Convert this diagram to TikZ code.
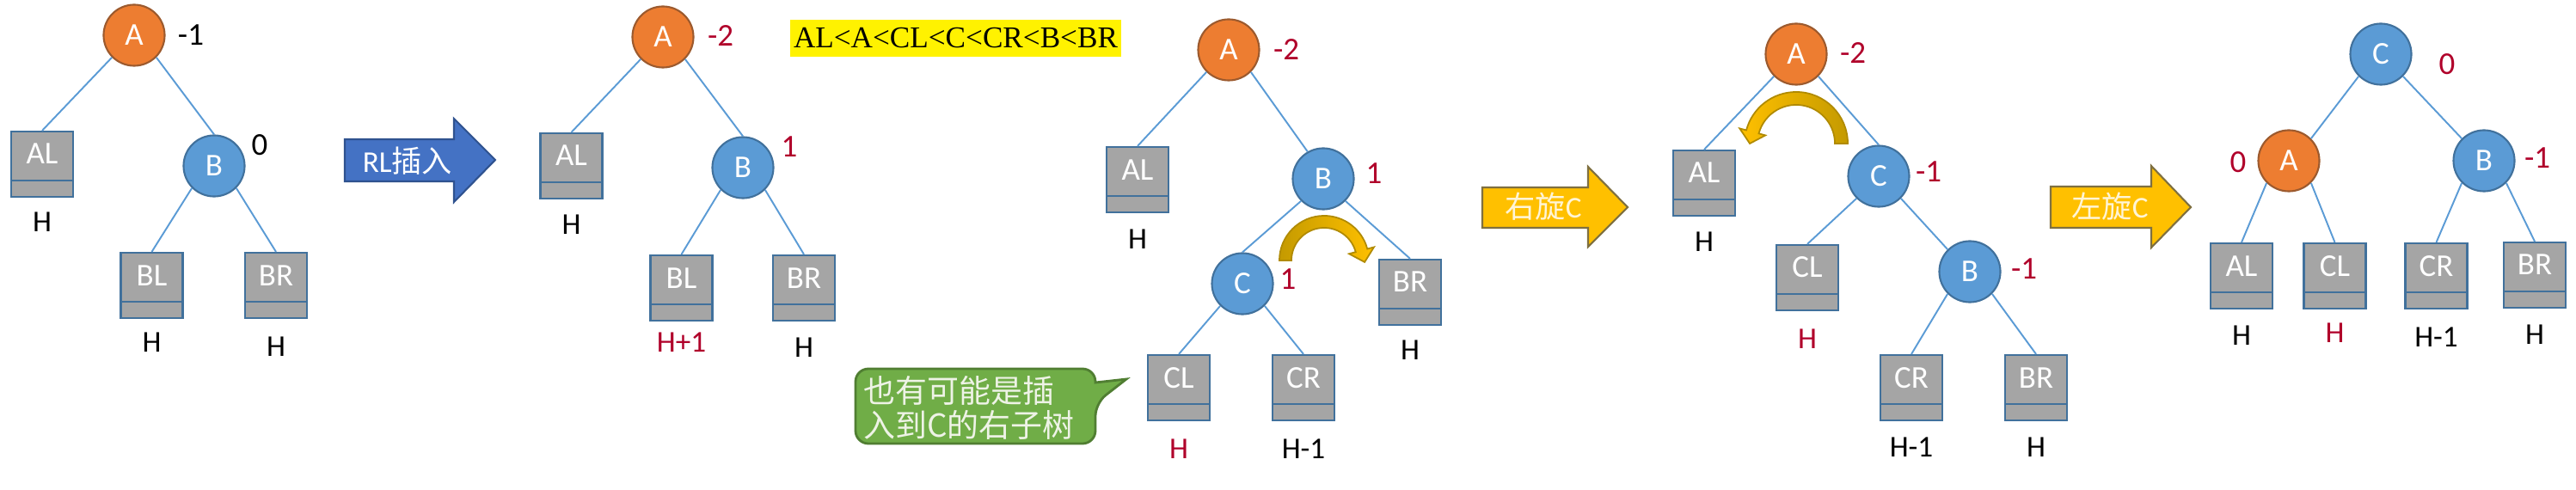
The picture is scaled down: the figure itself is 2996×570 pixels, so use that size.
\documentclass[tikz,border=0pt]{standalone}
\usepackage{fontspec}
\setmainfont{Carlito}
\newfontfamily\cjkfont{Noto Sans CJK SC}
\newfontfamily\timesfont{Liberation Serif}
\definecolor{orfill}{HTML}{ED7D31}
\definecolor{ordraw}{HTML}{9C5A2E}
\definecolor{blfill}{HTML}{5B9BD5}
\definecolor{bldraw}{HTML}{41719C}
\definecolor{gyfill}{HTML}{A5A5A5}
\definecolor{edgec}{HTML}{5B9BD5}
\definecolor{redtx}{HTML}{B0002A}
\definecolor{arrblue}{HTML}{4472C4}
\definecolor{arrblued}{HTML}{2F528F}
\definecolor{arrgold}{HTML}{FFC000}
\definecolor{arrgoldd}{HTML}{7F7040}
\definecolor{arrtxt}{HTML}{FFF5D6}
\definecolor{callg}{HTML}{70AD47}
\definecolor{callgd}{HTML}{507E32}
\definecolor{calltx}{HTML}{EEF3E6}
\definecolor{curvlight}{HTML}{FFC000}
\definecolor{curvdark}{HTML}{C49A00}
\definecolor{curvline}{HTML}{B08A00}
\begin{document}
\begin{tikzpicture}[x=0.01cm,y=-0.01cm,
  nodeA/.style={circle, minimum size=0.71cm, inner sep=0pt, fill=orfill, draw=ordraw, line width=0.6pt, text=white, font=\fontsize{10.5pt}{12pt}\selectfont},
  nodeB/.style={nodeA, fill=blfill, draw=bldraw},
  sub/.style={rectangle, minimum width=0.72cm, minimum height=0.76cm, inner sep=0pt, fill=gyfill, draw=bldraw, line width=0.6pt, text=white, font=\fontsize{10.5pt}{12pt}\selectfont, text height=0.2cm, text depth=0.2cm,
    path picture={\draw[bldraw, line width=0.6pt] ([yshift=0.19cm]path picture bounding box.south west) -- ([yshift=0.19cm]path picture bounding box.south east);}},
  hl/.style={font=\fontsize{10pt}{12pt}\selectfont, text=black, inner sep=0pt},
  hr/.style={hl, text=redtx},
  nl/.style={font=\fontsize{10.5pt}{12pt}\selectfont, text=black, inner sep=0pt},
  nr/.style={nl, text=redtx},
  edge/.style={draw=edgec, line width=0.55pt},
  bigarrow/.style={line width=0.6pt},
  arrtext/.style={inner sep=0pt, font=\fontsize{10pt}{12pt}\selectfont},
  curv/.style={draw=curvline, line width=0.5pt, shading=axis}
]
\useasboundingbox (0,0) rectangle (2996,570);

% ---------- Panel 1 ----------
\node[nodeA] (p1A) at (156,41) {A};
\node[nodeB] (p1B) at (249,193) {B};
\node[sub] (p1AL) at (49,191) {AL};
\node[sub] (p1BL) at (176.5,332) {BL};
\node[sub] (p1BR) at (321,332) {BR};
\draw[edge] (p1A.south west) -- (p1AL.north);
\draw[edge] (p1A.south east) -- (p1B.north);
\draw[edge] (p1B.south west) -- (p1BL.north);
\draw[edge] (p1B.south east) -- (p1BR.north);
\node[nl] (p1n1) at (222,41) {-1};
\node[nl] (p1n2) at (302,169) {0};
\node[hl] (p1h1) at ([yshift=-0.67cm]p1AL.center) {H};
\node[hl] (p1h2) at ([yshift=-0.66cm]p1BL.center) {H};
\node[hl] (p1h3) at ([yshift=-0.71cm]p1BR.center) {H};

% RL arrow
\filldraw[bigarrow, fill=arrblue, draw=arrblued] (401,162) -- (528,162) -- (528,138) -- (576,186) -- (528,235) -- (528,211) -- (401,211) -- cycle;
\node[arrtext, text=white] (rl) at (474,187) {RL{\cjkfont 插入}};

% ---------- Panel 2 ----------
\node[nodeA] (p2A) at (771,43) {A};
\node[nodeB] (p2B) at (864,195) {B};
\node[sub] (p2AL) at (664.5,193) {AL};
\node[sub] (p2BL) at (792.5,335) {BL};
\node[sub] (p2BR) at (935,335) {BR};
\draw[edge] (p2A.south west) -- (p2AL.north);
\draw[edge] (p2A.south east) -- (p2B.north);
\draw[edge] (p2B.south west) -- (p2BL.north);
\draw[edge] (p2B.south east) -- (p2BR.north);
\node[nr] (p2n1) at (838,42) {-2};
\node[nr] (p2n2) at (918,171) {1};
\node[hl] (p2h1) at ([yshift=-0.68cm]p2AL.center) {H};
\node[hr] (p2h2) at ([yshift=-0.63cm]p2BL.center) {H+1};
\node[hl] (p2h3) at ([yshift=-0.69cm]p2BR.center) {H};

% order label
\node[fill=yellow, inner sep=0pt, minimum width=3.85cm, minimum height=0.43cm, font=\timesfont\fontsize{10pt}{12pt}\selectfont] (order) at (1111.5,44.5) {AL<A<CL<C<CR<B<BR};

% ---------- Panel 3 ----------
\node[nodeA] (p3A) at (1429,58) {A};
\node[nodeB] (p3B) at (1539,208) {B};
\node[nodeB] (p3C) at (1445,330) {C};
\node[sub] (p3AL) at (1323,209) {AL};
\node[sub] (p3BR) at (1640,340) {BR};
\node[sub] (p3CL) at (1371,451) {CL};
\node[sub] (p3CR) at (1516,451) {CR};
\draw[edge] (p3A.south west) -- (p3AL.north);
\draw[edge] (p3A.south east) -- (p3B.120);
\draw[edge] (p3B.south west) -- (p3C.north);
\draw[edge] (p3B.south east) -- (p3BR.north);
\draw[edge] (p3C.south west) -- (p3CL.north);
\draw[edge] (p3C.south east) -- (p3CR.north);
\node[nr] (p3n1) at (1496,58) {-2};
\node[nr] (p3n2) at (1598,202) {1};
\node[nr] (p3n3) at (1498,325) {1};
\node[hl] (p3h1) at ([yshift=-0.69cm]p3AL.center) {H};
\node[hl] (p3h2) at ([yshift=-0.67cm]p3BR.center) {H};
\node[hr] (p3h3) at ([yshift=-0.71cm]p3CL.center) {H};
\node[hl] (p3h4) at ([yshift=-0.71cm]p3CR.center) {H-1};
% curved arrow (rotate at B)
\path[curv, left color=curvdark, right color=curvlight, shift={(1540,303)}]
  (180:0.52cm) arc[start angle=180, end angle=15, radius=0.52cm]
  -- (15:0.60cm) -- (0.471cm,-0.019cm) -- (15:0.30cm) -- (15:0.38cm)
  arc[start angle=15, end angle=180, radius=0.38cm] -- cycle;

% callout
\filldraw[fill=callg, draw=callgd, line width=0.8pt]
  (1274,445) [rounded corners=0.15cm] -- (1274,429) -- (995,429) -- (995,516) -- (1274,516) -- (1274,469) [sharp corners] -- (1310,441) -- cycle;
\node[inner sep=0pt, align=left, text=calltx, font=\cjkfont\fontsize{10.5pt}{11.4pt}\selectfont] (note) at (1127,474) {也有可能是插\\入到C的右子树};

% 右旋C arrow
\filldraw[bigarrow, fill=arrgold, draw=arrgoldd] (1724,218) -- (1847,218) -- (1847,194) -- (1893,241) -- (1847,287) -- (1847,265) -- (1724,265) -- cycle;
\node[arrtext, text=arrtxt] (rot1) at (1795,240) {{\cjkfont 右旋}C};

% ---------- Panel 4 ----------
\node[nodeA] (p4A) at (2089,63) {A};
\node[nodeB] (p4C) at (2185,205) {C};
\node[nodeB] (p4B) at (2291,316) {B};
\node[sub] (p4AL) at (1982,213) {AL};
\node[sub] (p4CL) at (2102,323) {CL};
\node[sub] (p4CR) at (2223,451) {CR};
\node[sub] (p4BR) at (2368,451) {BR};
\draw[edge] (p4A.south west) -- (p4AL.north);
\draw[edge] (p4A.south east) -- (p4C.north);
\draw[edge] (p4C.south west) -- (p4CL.north);
\draw[edge] (p4C.south east) -- (p4B.north west);
\draw[edge] (p4B.south west) -- (p4CR.north);
\draw[edge] (p4B.south east) -- (p4BR.north);
\node[nr] (p4n1) at (2155,62) {-2};
\node[nr] (p4n2) at (2243,200) {-1};
\node[nr] (p4n3) at (2354,313) {-1};
\node[hl] (p4h1) at ([yshift=-0.68cm]p4AL.center) {H};
\node[hr] (p4h2) at ([yshift=-0.71cm]p4CL.center) {H};
\node[hl] (p4h3) at ([yshift=-0.69cm]p4CR.center) {H-1};
\node[hl] (p4h4) at ([yshift=-0.69cm]p4BR.center) {H};
% curved arrow (rotate at A)
\path[curv, left color=curvlight, right color=curvdark, shift={(2089,167)}]
  (0:0.60cm) arc[start angle=0, end angle=165, radius=0.60cm]
  -- (165:0.68cm) -- (-0.539cm,0cm) -- (165:0.37cm) -- (165:0.45cm)
  arc[start angle=165, end angle=0, radius=0.45cm] -- cycle;

% 左旋C arrow
\filldraw[bigarrow, fill=arrgold, draw=arrgoldd] (2385,217) -- (2502,217) -- (2502,193) -- (2548,241) -- (2502,288) -- (2502,265) -- (2385,265) -- cycle;
\node[arrtext, text=arrtxt] (rot2) at (2454,240) {{\cjkfont 左旋}C};

% ---------- Panel 5 ----------
\node[nodeB] (p5C) at (2769,63) {C};
\node[nodeA] (p5A) at (2662,187) {A};
\node[nodeB] (p5B) at (2889,187) {B};
\node[sub] (p5AL) at (2607,321) {AL};
\node[sub] (p5CL) at (2715.5,321) {CL};
\node[sub] (p5CR) at (2833.5,321) {CR};
\node[sub] (p5BR) at (2948,320) {BR};
\draw[edge] (p5C.south west) -- (p5A.north east);
\draw[edge] (p5C.south east) -- (p5B.north west);
\draw[edge] (p5A.south west) -- (p5AL.north);
\draw[edge] (p5A.south east) -- (p5CL.north);
\draw[edge] (p5B.south west) -- (p5CR.north);
\draw[edge] (p5B.south east) -- (p5BR.north);
\node[nr] (p5n1) at (2846,75) {0};
\node[nr] (p5n2) at (2603,189) {0};
\node[nr] (p5n3) at (2951,184) {-1};
\node[hl] (p5h1) at ([yshift=-0.69cm]p5AL.center) {H};
\node[hr] (p5h2) at ([yshift=-0.66cm]p5CL.center) {H};
\node[hl] (p5h3) at ([yshift=-0.71cm]p5CR.center) {H-1};
\node[hl] (p5h4) at ([yshift=-0.69cm]p5BR.center) {H};
\end{tikzpicture}
\end{document}
